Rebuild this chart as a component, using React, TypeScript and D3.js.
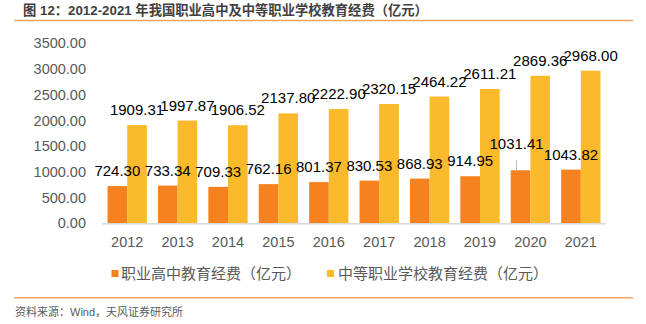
import React from "react";
import * as d3 from "d3";

const years = ["2012", "2013", "2014", "2015", "2016", "2017", "2018", "2019", "2020", "2021"];
const vocationalHigh = [724.3, 733.34, 709.33, 762.16, 801.37, 830.53, 868.93, 914.95, 1031.41, 1043.82];
const secondaryVocational = [1909.31, 1997.87, 1906.52, 2137.8, 2222.9, 2320.15, 2464.22, 2611.21, 2869.36, 2968.0];
const yTicks = [0, 500, 1000, 1500, 2000, 2500, 3000, 3500];
const seriesNames = ["职业高中教育经费（亿元）", "中等职业学校教育经费（亿元）"];
const seriesColors = ["#F5821F", "#FABA2B"];
const title = "图 12：2012-2021 年我国职业高中及中等职业学校教育经费（亿元）";
const source = "资料来源：Wind，天风证券研究所";

const FONT = "'Liberation Sans', Arial, 'Noto Sans CJK SC', sans-serif";

export default function App() {
  const W = 646, H = 324;
  const x = d3.scaleBand<string>().domain(years).range([102, 606]).paddingInner(0.22).paddingOuter(0.11);
  const x1 = d3.scaleBand<number>().domain([0, 1]).range([0, x.bandwidth()]).padding(0);
  const y = d3.scaleLinear().domain([0, 3500]).range([223.3, 43.3]);
  const series = [vocationalHigh, secondaryVocational];

  return (
    <svg width={W} height={H} style={{ position: "absolute", left: 0, top: 0, background: "#fff" }} fontFamily={FONT}>
      {/* title */}
      <text x={23} y={14.5} fontSize={13.3} fontWeight="bold" fill="#404040">{title}</text>
      <line x1={14} x2={633} y1={20.5} y2={20.5} stroke="#F4A460" strokeWidth={1.5} />

      {/* y ticks */}
      {yTicks.map((t) => (
        <text key={t} x={86} y={y(t)} dy="0.35em" textAnchor="end" fontSize={14.5} fill="#595959">
          {t.toFixed(2)}
        </text>
      ))}

      {/* bars */}
      {series.map((vals, si) =>
        vals.map((v, i) => (
          <rect
            key={`b${si}-${i}`}
            x={(x(years[i]) as number) + (x1(si) as number)}
            y={y(v)}
            width={x1.bandwidth()}
            height={y(0) - y(v)}
            fill={seriesColors[si]}
          />
        ))
      )}

      {/* axis */}
      <line x1={102} x2={606} y1={y(0) + 0.5} y2={y(0) + 0.5} stroke="#D9D9D9" strokeWidth={1.5} />
      {years.map((yr) => (
        <text key={yr} x={(x(yr) as number) + x.bandwidth() / 2} y={242} dy="0.35em" textAnchor="middle" fontSize={14.5} fill="#595959">
          {yr}
        </text>
      ))}

      {/* data labels */}
      {series.map((vals, si) =>
        vals.map((v, i) => {
          const cx = (x(years[i]) as number) + (x1(si) as number) + x1.bandwidth() / 2;
          const shifted = si === 0 && i === 8;
          const dx = shifted ? -4 : 0;
          const dyOff = shifted ? 21 : 10;
          return (
            <g key={`l${si}-${i}`}>
              {shifted && (
                <line x1={cx + dx} x2={cx + dx} y1={y(v) - 10} y2={y(v)} stroke="#BFBFBF" strokeWidth={1} />
              )}
              <text x={cx + dx} y={y(v) - dyOff} textAnchor="middle" fontSize={15} fill="#000">
                {v.toFixed(2)}
              </text>
            </g>
          );
        })
      )}

      {/* legend */}
      <rect x={111.5} y={270} width={7} height={7} fill={seriesColors[0]} />
      <text x={121} y={274} dy="0.35em" fontSize={15} fill="#595959">{seriesNames[0]}</text>
      <rect x={327} y={270} width={7} height={7} fill={seriesColors[1]} />
      <text x={338} y={274} dy="0.35em" fontSize={15} fill="#595959">{seriesNames[1]}</text>

      <line x1={14} x2={633} y1={297.7} y2={297.7} stroke="#F4A460" strokeWidth={1.5} />
      <text x={15} y={312} dy="0.35em" fontSize={11} fill="#595959">{source}</text>
    </svg>
  );
}
